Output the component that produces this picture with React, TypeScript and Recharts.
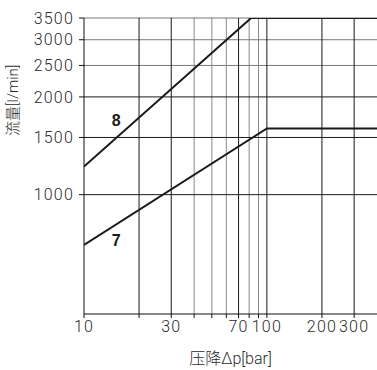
import { LineChart, Line, XAxis, YAxis, ReferenceLine, ReferenceDot } from 'recharts';

// pressure drop (bar) vs flow (l/min), log-log
const pressure8 = [10, 82, 400];
const flow8 = [1220, 3500, 3500];
const pressure7 = [10, 100, 400];
const flow7 = [700, 1600, 1600];

const xTicks = [10, 20, 30, 40, 50, 60, 70, 80, 90, 100, 200, 300];
const xLabeled = [10, 30, 70, 100, 200, 300];
const yTicks = [1000, 1500, 2000, 2500, 3000, 3500];

const xGridDark = [20, 30, 70, 100, 200, 300];
const xGridLight = [40, 50, 60, 80, 90];
const yGridDark = [1000, 1500, 2000];
const yGridLight = [2500, 3000, 3500];

const curveLabels = [
  { name: '8', p: 15, q: 1700 },
  { name: '7', p: 15, q: 725 },
];

const series8 = pressure8.map((p, i) => ({ p, q: flow8[i] }));
const series7 = pressure7.map((p, i) => ({ p, q: flow7[i] }));

const font = 'Roboto, "Noto Sans CJK SC", sans-serif';
const tickStyle = { fill: '#2a2a2a', fontSize: 16, fontFamily: font, fontWeight: 300, letterSpacing: 1.2 };

export default function App() {
  return (
    <div style={{ position: 'absolute', left: 0, top: 0, background: '#fff' }}>
      <LineChart width={377} height={370} margin={{ top: 18, right: 0, bottom: 0, left: 0 }}>
        <XAxis
          dataKey="p"
          type="number"
          scale="log"
          domain={[10, 400]}
          allowDataOverflow
          ticks={xTicks}
          interval={0}
          tickFormatter={(v: number) => (xLabeled.includes(v) ? String(v) : '')}
          tick={tickStyle}
          tickSize={4}
          tickMargin={3}
          stroke="#111"
          height={56}
          label={{ value: '压降Δp[bar]', position: 'insideBottom', offset: 6, fill: '#2a2a2a', fontSize: 16, fontWeight: 300, fontFamily: font }}
        />
        <YAxis
          dataKey="q"
          type="number"
          scale="log"
          domain={[429, 3500]}
          allowDataOverflow
          ticks={yTicks}
          interval={0}
          tick={tickStyle}
          tickSize={5}
          tickMargin={5}
          stroke="#111"
          width={84}
          label={{ value: '流量[l/min]', angle: -90, position: 'insideLeft', offset: 13, dy: -30, fill: '#2a2a2a', fontSize: 15, fontWeight: 300, fontFamily: font }}
        />
        {xGridLight.map((v) => (
          <ReferenceLine key={'xl' + v} x={v} stroke="#888" strokeWidth={1} />
        ))}
        {yGridLight.map((v) => (
          <ReferenceLine key={'yl' + v} y={v} stroke="#777" strokeWidth={1} />
        ))}
        {xGridDark.map((v) => (
          <ReferenceLine key={'xd' + v} x={v} stroke="#1a1a1a" strokeWidth={1} />
        ))}
        {yGridDark.map((v) => (
          <ReferenceLine key={'yd' + v} y={v} stroke="#1a1a1a" strokeWidth={1} />
        ))}
        <Line data={series8} dataKey="q" type="linear" stroke="#1a1a1a" strokeWidth={2} dot={false} isAnimationActive={false} />
        <Line data={series7} dataKey="q" type="linear" stroke="#1a1a1a" strokeWidth={2} dot={false} isAnimationActive={false} />
        {curveLabels.map((c) => (
          <ReferenceDot
            key={c.name}
            x={c.p}
            y={c.q}
            r={1}
            fill="none"
            stroke="none"
            label={{ value: c.name, position: 'center', fill: '#1a1a1a', fontSize: 16, fontWeight: 'bold', fontFamily: '"Liberation Sans", sans-serif' }}
          />
        ))}
      </LineChart>
    </div>
  );
}
